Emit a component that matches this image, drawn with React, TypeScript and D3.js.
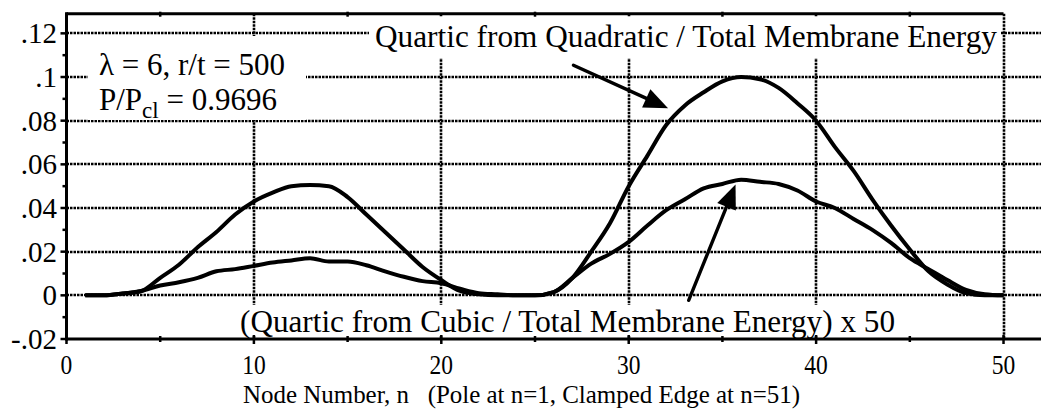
import React from "react";
import * as d3 from "d3";

// Energy ratio along the meridian, one value per node
const nodeNumbers = d3.range(1, 51);

// Quartic-from-quadratic energy / total membrane energy
const quadraticRatio = [
  0, 0, 0.0008, 0.002, 0.008, 0.014, 0.022, 0.029, 0.037, 0.043,
  0.047, 0.05, 0.0505, 0.05, 0.045, 0.037, 0.029, 0.021, 0.013, 0.007,
  0.002, 0.0005, 0, 0, 0, 0.0015, 0.008, 0.02, 0.033, 0.05,
  0.064, 0.078, 0.087, 0.093, 0.098, 0.1, 0.099, 0.095, 0.088, 0.08,
  0.068, 0.057, 0.044, 0.032, 0.021, 0.011, 0.005, 0.001, 0, 0,
];

// (Quartic-from-cubic energy / total membrane energy) x 50
const cubicRatioX50 = [
  0, 0, 0.0008, 0.002, 0.0045, 0.006, 0.008, 0.011, 0.012, 0.0135,
  0.015, 0.016, 0.017, 0.0155, 0.0155, 0.0138, 0.011, 0.0085, 0.0065, 0.0055,
  0.003, 0.001, 0.0005, 0, 0, 0.0015, 0.008, 0.0145, 0.019, 0.0245,
  0.032, 0.039, 0.044, 0.049, 0.051, 0.053, 0.052, 0.051, 0.048, 0.043,
  0.04, 0.035, 0.03, 0.024, 0.017, 0.012, 0.007, 0.0025, 0.0005, 0,
];

const xTicks = [0, 10, 20, 30, 40, 50];
const xTickLabels = ["0", "10", "20", "30", "40", "50"];
const xMinorTicks = [5, 15, 25, 35, 45];
const yTicks = [-0.02, 0, 0.02, 0.04, 0.06, 0.08, 0.1, 0.12];
const yTickLabels = ["-.02", "0", ".02", ".04", ".06", ".08", ".1", ".12"];
const yMinorTicks = [-0.01, 0.01, 0.03, 0.05, 0.07, 0.09, 0.11];

// Annotation arrows in data units: [n, value]
const quadArrow = { from: [27.05, 0.1054], to: [32.1, 0.0857] };
const cubicArrow = { from: [33.2, -0.0023], to: [35.7, 0.0508] };

const W = 1041;
const H = 415;
const FONT = "'Liberation Serif', 'Times New Roman', Times, serif";

const x = d3.scaleLinear().domain([0, 52]).range([66.5, 1041]);
const y = d3.scaleLinear().domain([-0.02, 0.129]).range([339, 13.7]);

function Arrow({ from, to }: { from: number[]; to: number[] }) {
  const x0 = x(from[0]);
  const y0 = y(from[1]);
  const x1 = x(to[0]);
  const y1 = y(to[1]);
  const dx = x1 - x0;
  const dy = y1 - y0;
  const len = Math.hypot(dx, dy);
  const ux = dx / len;
  const uy = dy / len;
  const headLen = 24;
  const halfW = 10;
  const bx = x1 - ux * headLen;
  const by = y1 - uy * headLen;
  const pts = [
    [x1, y1],
    [bx - uy * halfW, by + ux * halfW],
    [bx + uy * halfW, by - ux * halfW],
  ];
  return (
    <g>
      <line x1={x0} y1={y0} x2={bx + ux * 2} y2={by + uy * 2} stroke="#000" strokeWidth={3.4} strokeLinecap="round" />
      <polygon points={pts.map((p) => p.join(",")).join(" ")} fill="#000" />
    </g>
  );
}

export default function App() {
  const line = d3
    .line<number>()
    .x((_, i) => x(nodeNumbers[i]))
    .y((d) => y(d))
    .curve(d3.curveMonotoneX);

  const left = x(0);
  const right = W;
  const top = y(0.129);
  const bottom = y(-0.02);
  const grid = { stroke: "#000", strokeWidth: 2.6, strokeDasharray: "2.5 1" };

  return (
    <svg
      width={W}
      height={H}
      viewBox={`0 0 ${W} ${H}`}
      style={{ position: "absolute", left: 0, top: 0, background: "#fff" }}
      fontFamily={FONT}
    >
      <rect x={0} y={0} width={W} height={H} fill="#fff" />

      {/* grid */}
      {yTicks
        .filter((v) => v > -0.02)
        .map((v) => (
          <line key={"gy" + v} x1={left} x2={right} y1={Math.round(y(v))} y2={Math.round(y(v))} {...grid} />
        ))}
      {xTicks
        .filter((v) => v > 0)
        .map((v) => (
          <line key={"gx" + v} x1={Math.round(x(v))} x2={Math.round(x(v))} y1={top} y2={bottom} {...grid} />
        ))}

      {/* text boxes mask the grid behind the annotations */}
      <rect x={88} y={36} width={218} height={84} fill="#fff" />
      <rect x={369} y={17} width={632} height={41} fill="#fff" />
      <rect x={238} y={305} width={660} height={31} fill="#fff" />

      {/* frame */}
      <line x1={left} x2={x(50)} y1={top} y2={top} stroke="#000" strokeWidth={3} />
      <line x1={left} x2={right} y1={bottom} y2={bottom} stroke="#000" strokeWidth={3} />
      <line x1={left} x2={left} y1={top - 1.5} y2={bottom + 1.5} stroke="#000" strokeWidth={3} />

      {/* ticks */}
      {yTicks.map((v) => (
        <line key={"ty" + v} x1={left - 6} x2={left} y1={y(v)} y2={y(v)} stroke="#000" strokeWidth={2.5} />
      ))}
      {yMinorTicks.map((v) => (
        <line key={"tym" + v} x1={left - 4} x2={left} y1={y(v)} y2={y(v)} stroke="#000" strokeWidth={2.5} />
      ))}
      {xTicks.map((v) => (
        <line key={"tx" + v} x1={x(v)} x2={x(v)} y1={bottom - 4} y2={bottom + 5} stroke="#000" strokeWidth={2.5} />
      ))}
      {xMinorTicks.map((v) => (
        <g key={"txm" + v}>
          <line x1={x(v)} x2={x(v)} y1={bottom - 3} y2={bottom + 3} stroke="#000" strokeWidth={2.5} />
          <line x1={x(v)} x2={x(v)} y1={top - 2} y2={top + 3} stroke="#000" strokeWidth={2.5} />
        </g>
      ))}

      {/* tick labels */}
      {yTicks.map((v, i) => (
        <text key={"ly" + v} x={57} y={y(v) + 10} textAnchor="end" fontSize={29} fill="#000">
          {yTickLabels[i]}
        </text>
      ))}
      {xTicks.map((v, i) => (
        <text
          key={"lx" + v}
          x={x(v)}
          y={374}
          textAnchor="middle"
          fontSize={28}
          fill="#000"
          transform={`translate(${x(v)},0) scale(0.84,1) translate(${-x(v)},0)`}
        >
          {xTickLabels[i]}
        </text>
      ))}
      <text
        x={243}
        y={403}
        fontSize={25}
        fill="#000"
        textLength={557}
        lengthAdjust="spacingAndGlyphs"
        style={{ whiteSpace: "pre" }}
      >
        {"Node Number, n   (Pole at n=1, Clamped Edge at n=51)"}
      </text>

      {/* series */}
      <path d={line(quadraticRatio) || ""} fill="none" stroke="#000" strokeWidth={4} strokeLinejoin="round" />
      <path d={line(cubicRatioX50) || ""} fill="none" stroke="#000" strokeWidth={4} strokeLinejoin="round" />

      {/* annotations */}
      <text x={99} y={75} fontSize={31} fill="#000">
        λ = 6, r/t = 500
      </text>
      <text x={99} y={110} fontSize={31} fill="#000">
        P/P
        <tspan fontSize={23} dy={8}>cl</tspan>
        <tspan dy={-8}> = 0.9696</tspan>
      </text>
      <text x={375} y={47} fontSize={31} fill="#000" textLength={622} lengthAdjust="spacingAndGlyphs">
        Quartic from Quadratic / Total Membrane Energy
      </text>
      <text x={240} y={332} fontSize={31} fill="#000" textLength={655} lengthAdjust="spacingAndGlyphs">
        (Quartic from Cubic / Total Membrane Energy) x 50
      </text>

      <Arrow from={quadArrow.from} to={quadArrow.to} />
      <Arrow from={cubicArrow.from} to={cubicArrow.to} />
    </svg>
  );
}
